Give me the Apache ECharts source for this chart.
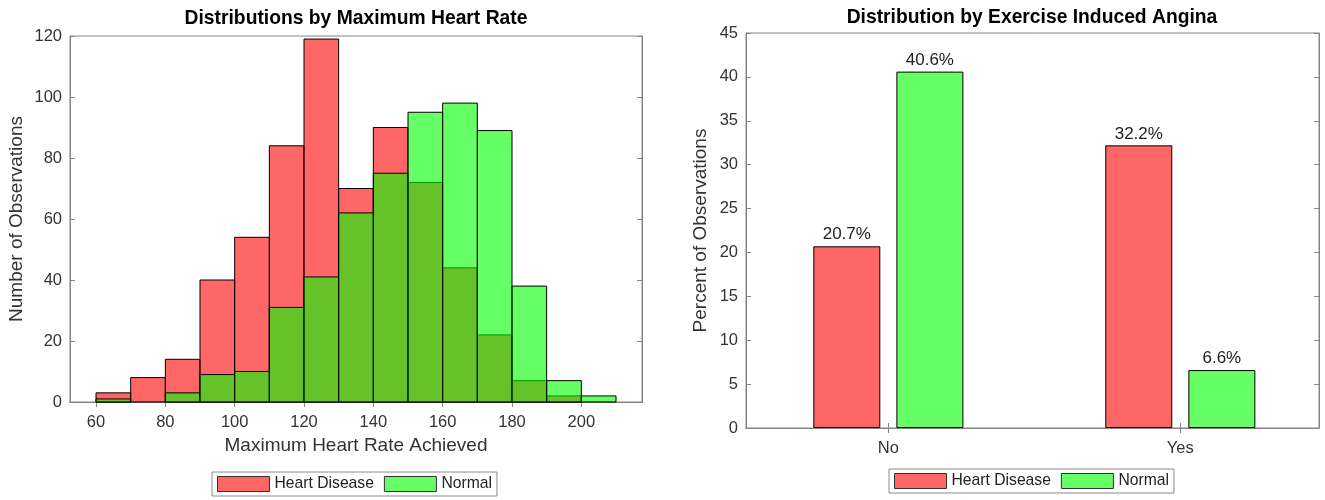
<!DOCTYPE html>
<html><head><meta charset="utf-8">
<script src="https://cdn.jsdelivr.net/npm/echarts@6/dist/echarts.min.js"></script>
<style>html,body{margin:0;padding:0;background:#fff}#c{width:1325px;height:500px}</style>
</head><body><div id="c"></div>
<script>
// ---- data ----
const binEdges = [60,70,80,90,100,110,120,130,140,150,160,170,180,190,200,210];
const heartDiseaseCounts = [3,8,14,40,54,84,119,70,90,72,44,22,7,2,0];
const normalCounts = [1,0,3,9,10,31,41,62,75,95,98,89,38,7,2];
const hrTicks = [60,80,100,120,140,160,180,200];
const anginaCategories = ['No','Yes'];
const anginaPositions = [1,2];
const anginaHeartDisease = [20.7, 32.2];
const anginaNormal = [40.6, 6.6];
const seriesNames = ['Heart Disease','Normal'];

// ---- styling ----
const FONT = 'Liberation Sans, Arial, Helvetica, sans-serif';
const AX = '#858585';
const TXT = '#333';
const RED = '#FF6666', GREEN = '#66FF66';

function binData(counts){
  return counts.map((c,i)=>[binEdges[i], binEdges[i+1], c]);
}
function histItem(color){
  return function(params, api){
    const x0 = api.value(0), x1 = api.value(1), v = api.value(2);
    if (!v) return null;
    const p0 = api.coord([x0, v]);
    const p1 = api.coord([x1, 0]);
    return {type:'rect', shape:{x:p0[0], y:p0[1], width:p1[0]-p0[0], height:p1[1]-p0[1]},
      style:{fill: color, stroke:'#000', lineWidth:1}};
  };
}
const tickLbl = {fontFamily: FONT, fontSize: 16.5, color: TXT};
const nameStyle = {fontFamily: FONT, fontSize: 19, color: TXT};
const axLine = {show:true, lineStyle:{color: AX, width:1}};

const legendCommon = {
  orient:'horizontal', itemWidth:52, itemHeight:15, itemGap:10,
  padding:[4,5,4,5], borderColor:'#8a8a8a', borderWidth:1, backgroundColor:'#fff',
  textStyle:{fontFamily: FONT, fontSize:15.7, color:'#222'},
  selectedMode:false,
  data:[
    {name: seriesNames[0], icon:'rect', itemStyle:{color: RED, borderColor:'#333', borderWidth:1}},
    {name: seriesNames[1], icon:'rect', itemStyle:{color: GREEN, borderColor:'#333', borderWidth:1}}
  ]
};
const catLabel = (v)=>{ const i = anginaPositions.indexOf(Math.round(v)); return i>=0 ? anginaCategories[i] : ''; };
const pct = (p)=>p.value[1].toFixed(1)+'%';

const chart = echarts.init(document.getElementById('c'), null, {renderer:'canvas'});
chart.setOption({
  animation:false,
  backgroundColor:'#fff',
  graphic:[
    {type:'text', x:356, y:19, style:{text:'Distributions by Maximum Heart Rate', textAlign:'center', textVerticalAlign:'middle', font:'bold 19.3px '+FONT, fill:'#000'}},
    {type:'text', x:1032, y:18, style:{text:'Distribution by Exercise Induced Angina', textAlign:'center', textVerticalAlign:'middle', font:'bold 19.3px '+FONT, fill:'#000'}}
  ],
  legend:[
    Object.assign({left:212, top:472}, legendCommon),
    Object.assign({left:889, top:469}, legendCommon)
  ],
  grid:[
    {left:70, right:683, top:36, bottom:98, show:true, borderColor:AX, borderWidth:1},
    {left:746, right:6, top:33, bottom:72, show:true, borderColor:AX, borderWidth:1}
  ],
  xAxis:[
    {type:'value', gridIndex:0, min:52.5, max:217.5, position:'bottom',
     axisLine:axLine, splitLine:{show:false},
     axisTick:{show:true, inside:true, length:5, lineStyle:{color:AX}, customValues: hrTicks},
     axisLabel:Object.assign({margin:12, customValues: hrTicks}, tickLbl),
     name:'Maximum Heart Rate Achieved', nameLocation:'middle', nameGap:34, nameTextStyle:nameStyle},
    {type:'value', gridIndex:0, min:52.5, max:217.5, position:'top',
     axisLine:axLine, splitLine:{show:false},
     axisTick:{show:true, inside:true, length:5, lineStyle:{color:AX}, customValues: hrTicks},
     axisLabel:{show:false}},
    {type:'value', gridIndex:1, min:0.5125, max:2.475, position:'bottom',
     axisLine:axLine, splitLine:{show:false},
     axisTick:{show:true, inside:true, length:5, lineStyle:{color:AX}, customValues: anginaPositions},
     axisLabel:Object.assign({margin:12, customValues: anginaPositions, formatter: catLabel}, tickLbl)},
    {type:'value', gridIndex:1, min:0.5125, max:2.475, position:'top',
     axisLine:axLine, splitLine:{show:false},
     axisTick:{show:true, inside:true, length:5, lineStyle:{color:AX}, customValues: anginaPositions},
     axisLabel:{show:false}}
  ],
  yAxis:[
    {type:'value', gridIndex:0, min:0, max:120, interval:20, position:'left',
     axisLine:axLine, splitLine:{show:false},
     axisTick:{show:true, inside:true, length:5, lineStyle:{color:AX}},
     axisLabel:Object.assign({margin:8}, tickLbl),
     name:'Number of Observations', nameLocation:'middle', nameGap:44, nameTextStyle:nameStyle},
    {type:'value', gridIndex:0, min:0, max:120, interval:20, position:'right',
     axisLine:axLine, splitLine:{show:false},
     axisTick:{show:true, inside:true, length:5, lineStyle:{color:AX}},
     axisLabel:{show:false}},
    {type:'value', gridIndex:1, min:0, max:45, interval:5, position:'left',
     axisLine:axLine, splitLine:{show:false},
     axisTick:{show:true, inside:true, length:5, lineStyle:{color:AX}},
     axisLabel:Object.assign({margin:8}, tickLbl),
     name:'Percent of Observations', nameLocation:'middle', nameGap:36, nameTextStyle:nameStyle},
    {type:'value', gridIndex:1, min:0, max:45, interval:5, position:'right',
     axisLine:axLine, splitLine:{show:false},
     axisTick:{show:true, inside:true, length:5, lineStyle:{color:AX}},
     axisLabel:{show:false}}
  ],
  series:[
    {name:seriesNames[0], type:'custom', xAxisIndex:0, yAxisIndex:0,
     itemStyle:{color:RED, borderColor:'#000', borderWidth:1},
     renderItem: histItem('rgba(255,0,0,0.6)'), encode:{x:[0,1], y:2},
     data: binData(heartDiseaseCounts)},
    {name:seriesNames[1], type:'custom', xAxisIndex:0, yAxisIndex:0,
     itemStyle:{color:GREEN, borderColor:'#000', borderWidth:1},
     renderItem: histItem('rgba(0,255,0,0.6)'), encode:{x:[0,1], y:2},
     data: binData(normalCounts)},
    {name:seriesNames[0], type:'bar', xAxisIndex:2, yAxisIndex:2, barWidth:67, barGap:'24%',
     itemStyle:{color:RED, borderColor:'#000', borderWidth:1},
     label:{show:true, position:'top', distance:3, formatter:pct, fontFamily:FONT, fontSize:17, color:'#222'},
     data: anginaPositions.map((x,i)=>[x, anginaHeartDisease[i]])},
    {name:seriesNames[1], type:'bar', xAxisIndex:2, yAxisIndex:2, barWidth:67, barGap:'24%',
     itemStyle:{color:GREEN, borderColor:'#000', borderWidth:1},
     label:{show:true, position:'top', distance:3, formatter:pct, fontFamily:FONT, fontSize:17, color:'#222'},
     data: anginaPositions.map((x,i)=>[x, anginaNormal[i]])}
  ]
});
</script></body></html>
